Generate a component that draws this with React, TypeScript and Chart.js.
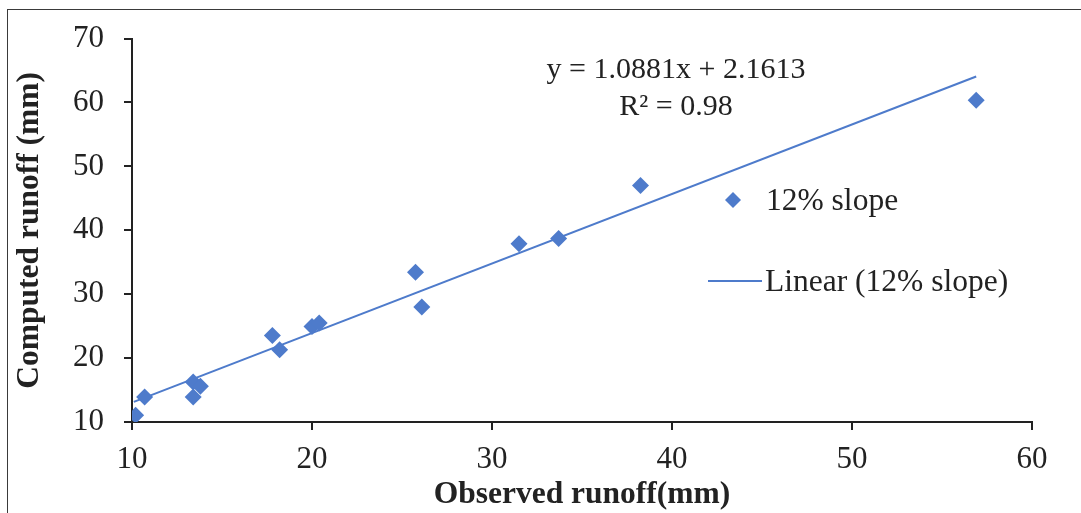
import React, { useEffect, useRef } from 'react';
import { Chart, registerables } from 'chart.js';

Chart.register(...registerables);

// Observed vs computed runoff (mm), 12% slope
const observedRunoff = [10.2, 10.7, 13.4, 13.8, 13.4, 17.8, 18.2, 20.0, 20.4, 25.75, 26.1, 31.5, 33.7, 38.25, 56.9];
const computedRunoff = [11.05, 13.9, 16.25, 15.6, 13.9, 23.55, 21.3, 24.95, 25.5, 33.45, 28.0, 37.9, 38.7, 47.0, 60.35];

// Linear trendline from the displayed equation
const trendSlope = 1.0881;
const trendIntercept = 2.1613;
const trendXRange = [10.1, 56.9];
const equationLabel = 'y = 1.0881x + 2.1613';
const r2Label = 'R\u00B2 = 0.98';

const seriesLabel = '12% slope';
const trendLabel = 'Linear (12% slope)';
const xTitle = 'Observed runoff(mm)';
const yTitle = 'Computed runoff (mm)';
const xTickValues = [10, 20, 30, 40, 50, 60];
const yTickValues = [10, 20, 30, 40, 50, 60, 70];

const BLUE = '#4E7BCB';
const DARK = '#222222';
const SERIF = '"Liberation Serif", "Times New Roman", serif';

export default function App() {
  const ref = useRef<HTMLCanvasElement | null>(null);

  useEffect(() => {
    const canvas = ref.current;
    if (!canvas) return;

    const points = observedRunoff.map((x, i) => ({ x, y: computedRunoff[i] }));
    const trend = trendXRange.map((x) => ({ x, y: trendSlope * x + trendIntercept }));

    const decor = {
      id: 'decor',
      beforeDraw(chart: any) {
        const ctx = chart.ctx;
        ctx.save();
        ctx.fillStyle = '#ffffff';
        ctx.fillRect(0, 0, chart.width, chart.height);
        ctx.strokeStyle = '#3a3a3a';
        ctx.lineWidth = 1;
        ctx.strokeRect(7.5, 9.5, 1400, 800);
        ctx.restore();
      },
      afterDraw(chart: any) {
        const ctx = chart.ctx;
        ctx.save();
        // equation
        ctx.fillStyle = DARK;
        ctx.font = `30px ${SERIF}`;
        ctx.textAlign = 'center';
        ctx.textBaseline = 'alphabetic';
        ctx.fillText(equationLabel, 676, 78);
        ctx.fillText(r2Label, 676, 115);
        // legend
        ctx.fillStyle = BLUE;
        ctx.beginPath();
        const cx = 733, cy = 200, r = 8;
        ctx.moveTo(cx - r, cy);
        ctx.lineTo(cx, cy - r);
        ctx.lineTo(cx + r, cy);
        ctx.lineTo(cx, cy + r);
        ctx.closePath();
        ctx.fill();
        ctx.strokeStyle = BLUE;
        ctx.lineWidth = 2;
        ctx.beginPath();
        ctx.moveTo(708, 281);
        ctx.lineTo(762, 281);
        ctx.stroke();
        ctx.fillStyle = DARK;
        ctx.font = `31.5px ${SERIF}`;
        ctx.textAlign = 'left';
        ctx.fillText(seriesLabel, 766, 210);
        ctx.fillText(trendLabel, 765, 291);
        ctx.restore();
      },
    };

    const chart = new Chart(canvas, {
      type: 'scatter',
      data: {
        datasets: [
          {
            type: 'line',
            label: trendLabel,
            data: trend,
            borderColor: BLUE,
            borderWidth: 2,
            pointRadius: 0,
            fill: false,
            order: 2,
          } as any,
          {
            label: seriesLabel,
            data: points,
            pointStyle: 'rectRot',
            pointRadius: 8.5,
            backgroundColor: BLUE,
            borderColor: BLUE,
            borderWidth: 0,
            order: 1,
          },
        ],
      },
      options: {
        animation: false,
        responsive: false,
        maintainAspectRatio: false,
        layout: { padding: { left: 0, top: 38, right: 49, bottom: 0 } },
        plugins: {
          legend: { display: false },
          tooltip: { enabled: false },
        },
        scales: {
          x: {
            type: 'linear',
            min: 10,
            max: 60,
            afterFit: (s: any) => { s.height = 91; },
            afterBuildTicks: (s: any) => { s.ticks = xTickValues.map((v) => ({ value: v })); },
            border: { display: true, color: DARK, width: 2 },
            grid: { display: true, drawOnChartArea: false, drawTicks: true, tickLength: 8, color: DARK, lineWidth: 2 },
            ticks: {
              color: DARK,
              font: { family: SERIF, size: 31 },
              padding: 11,
              maxRotation: 0,
            },
            title: {
              display: true,
              text: xTitle,
              color: DARK,
              font: { family: SERIF, size: 31.5, weight: 'bold' },
              padding: { top: 0, bottom: -1 },
            },
          },
          y: {
            type: 'linear',
            min: 10,
            max: 70,
            afterFit: (s: any) => { s.width = 132; },
            afterBuildTicks: (s: any) => { s.ticks = yTickValues.map((v) => ({ value: v })); },
            border: { display: true, color: DARK, width: 2 },
            grid: { display: true, drawOnChartArea: false, drawTicks: true, tickLength: 8, color: DARK, lineWidth: 2 },
            ticks: {
              color: DARK,
              font: { family: SERIF, size: 31 },
              padding: 20,
            },
            title: {
              display: true,
              text: yTitle,
              color: DARK,
              font: { family: SERIF, size: 31.5, weight: 'bold' },
              padding: { top: 11, bottom: 0 },
            },
          },
        },
      },
      plugins: [decor],
    });

    return () => chart.destroy();
  }, []);

  return (
    <div style={{ position: 'absolute', left: 0, top: 0, width: 1081, height: 513 }}>
      <canvas ref={ref} width={1081} height={513} style={{ display: 'block' }} />
    </div>
  );
}
